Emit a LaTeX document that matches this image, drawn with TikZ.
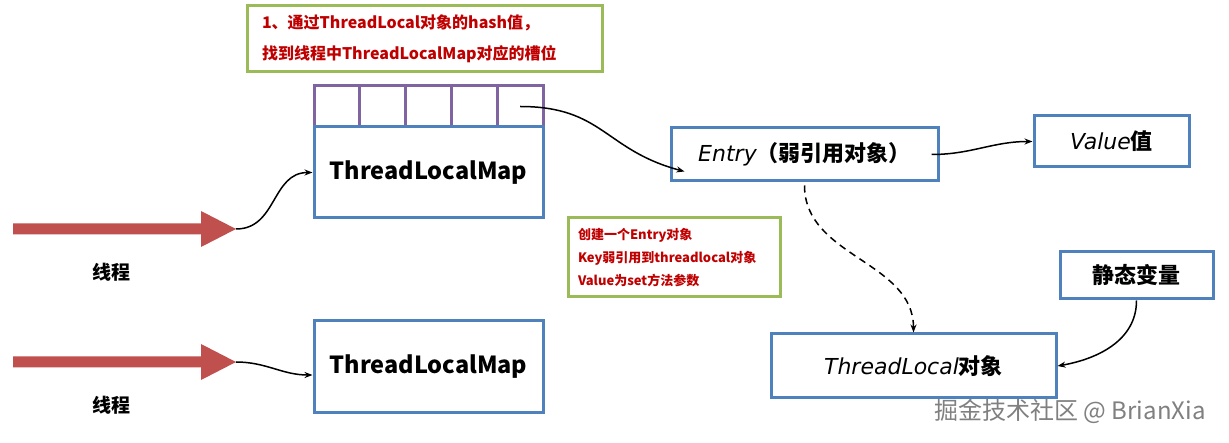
\documentclass[tikz,border=0pt]{standalone}
\usepackage{fontspec}
\newfontfamily\cjk{Noto Sans CJK SC}
\newfontfamily\hand{DejaVu Sans}
\usetikzlibrary{arrows.meta}
\definecolor{boxblue}{HTML}{4F81BD}
\definecolor{slotpurple}{HTML}{8064A2}
\definecolor{notegreen}{HTML}{9BBB59}
\definecolor{arrowred}{HTML}{C0504D}
\definecolor{darkred}{HTML}{C00000}
\tikzset{
  bluebox/.style={draw=boxblue, line width=3pt, inner sep=0pt},
  slotbox/.style={draw=slotpurple, line width=3pt, minimum width=45.8pt, minimum height=41pt, inner sep=0pt},
  notebox/.style={draw=notegreen, line width=3pt, align=left, text=darkred},
  conn/.style={line width=1.5pt, -{Stealth[length=8pt,width=6pt]}},
  bigtext/.style={font=\cjk\bfseries\fontsize{23.5}{28}\selectfont},
  midtext/.style={font=\cjk\bfseries\fontsize{22}{26}\selectfont},
  labeltext/.style={font=\cjk\bfseries\fontsize{19}{22}\selectfont},
  redarrow/.style={fill=arrowred}
}
\newcommand{\hw}[1]{{\hand\itshape\mdseries #1}}
\begin{document}
\begin{tikzpicture}[x=1pt,y=-1pt]
\fill[white] (0,0) rectangle (1229,443);
\useasboundingbox (0,0) rectangle (1229,443);

% note 1
\node[notebox, minimum width=355pt, minimum height=66pt, text width=325pt, inner xsep=15pt,
      font=\cjk\bfseries\fontsize{16}{31}\selectfont] (note1) at (424.5,39)
  {1、通过ThreadLocal对象的hash值，\\找到线程中ThreadLocalMap对应的槽位};

% slots
\foreach \i in {1,...,5}{
  \node[slotbox] (s\i) at ({314+45.8*(\i-0.5)},106.5) {};
}

% maps
\node[bluebox, minimum width=229pt, minimum height=91pt, bigtext] (map1) at (428.5,172.5) {ThreadLocalMap};
\node[bluebox, minimum width=229pt, minimum height=92pt, bigtext] (map2) at (428.5,367) {ThreadLocalMap};

% red arrows
\fill[redarrow] (13,223.5) -- (201,223.5) -- (201,211) -- (236,229) -- (201,247) -- (201,234.5) -- (13,234.5) -- cycle;
\coordinate (t1) at (236,229);
\fill[redarrow] (13,356.5) -- (201,356.5) -- (201,344) -- (236,362) -- (201,380) -- (201,367.5) -- (13,367.5) -- cycle;
\coordinate (t2) at (236,362);
\node[labeltext] (th1) at (111,272) {线程};
\node[labeltext] (th2) at (111,405) {线程};

% entry, value
\node[bluebox, minimum width=267pt, minimum height=53pt, midtext] (entry) at (804.5,154.5)
  {\hw{Entry}（弱引用对象）};
\node[bluebox, minimum width=155pt, minimum height=51pt, midtext] (value) at (1111.5,141.5)
  {\hw{Value}值};

% note 2
\node[notebox, minimum width=212pt, minimum height=79pt, text width=192pt, inner xsep=10pt,
      font=\cjk\bfseries\fontsize{13}{23}\selectfont] (note2) at (674,257.5)
  {创建一个Entry对象\\Key弱引用到threadlocal对象\\Value为set方法参数};

% threadlocal, static
\node[bluebox, minimum width=285pt, minimum height=64pt, midtext] (tl) at (913.5,366)
  {\hw{ThreadLocal}对象};
\node[bluebox, minimum width=153pt, minimum height=47pt, midtext] (static) at (1136.5,275.5) {静态变量};

% connectors
\draw[conn] (t1) to[out=0,in=180,looseness=1.1] (map1.west);
\draw[conn] (t2) to[out=0,in=180] ([yshift=-8pt]map2.west);
\draw[conn] (s5.center) to[out=0,in=165,looseness=1.2] ([xshift=15pt,yshift=-17pt]entry.west);
\draw[conn] ([xshift=-8pt]entry.east) to[out=0,in=180] (value.west);
\draw[conn, dashed, dash pattern=on 7pt off 5pt] ([yshift=-3pt]entry.south) to[out=-90,in=90] (tl.north);
\draw[conn] (static.south) to[out=-90,in=10] (tl.east);

% watermark
\node[font=\cjk\fontsize{24}{28}\selectfont, text=black!50] (wm) at (1070,411) {掘金技术社区 @ BrianXia};
\end{tikzpicture}
\end{document}
